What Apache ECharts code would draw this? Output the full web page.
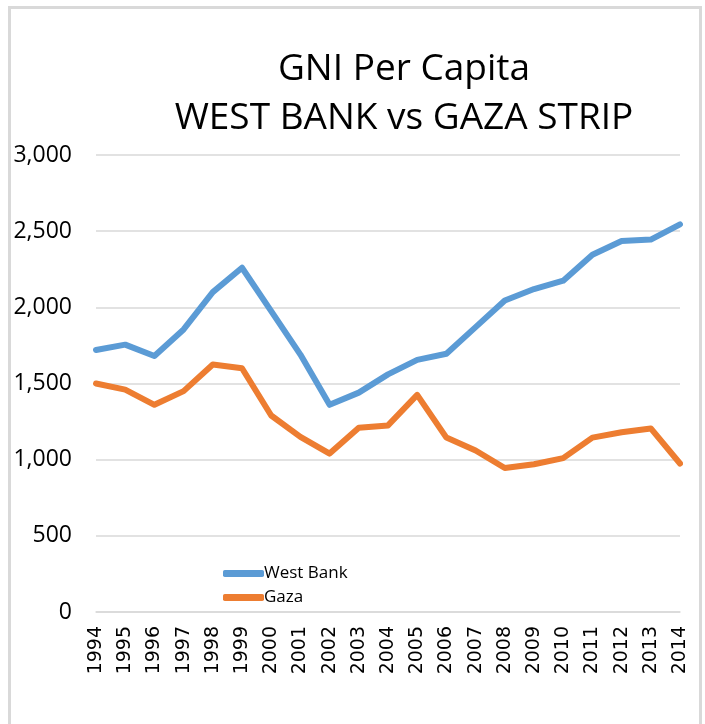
<!DOCTYPE html>
<html>
<head>
<meta charset="utf-8">
<title>GNI Per Capita</title>
<script src="https://cdn.jsdelivr.net/npm/echarts@6/dist/echarts.min.js"></script>
<style>
	html, body { margin: 0; padding: 0; background: #fff; }
	#echartsDiv { width: 705px; height: 724px; }
</style>
</head>
<body>
<div id="echartsDiv"></div>
<script>
// 年份
var years = ['1994','1995','1996','1997','1998','1999','2000','2001','2002','2003','2004',
	'2005','2006','2007','2008','2009','2010','2011','2012','2013','2014'];
// West Bank
var westBank = [1720, 1755, 1680, 1855, 2100, 2260, 1975, 1690, 1360, 1440, 1560,
	1655, 1695, 1870, 2045, 2120, 2175, 2345, 2435, 2445, 2545];
// Gaza
var gaza = [1500, 1460, 1360, 1450, 1625, 1600, 1290, 1150, 1040, 1210, 1225,
	1425, 1145, 1060, 945, 970, 1010, 1145, 1180, 1205, 975];
// y轴刻度
var yMin = 0, yMax = 3000, yStep = 500;

/**
 * 初始化
 */
window.onload = function() {
	createEcharts();
};

/**
 * 生成图表
 */
function createEcharts() {
	var myChart = echarts.init(document.getElementById('echartsDiv'));

	var option = {
		animation : false,
		backgroundColor : '#fff',
		color : ['#5B9BD5', '#ED7D31'],
		title : {
			text : 'GNI Per Capita\nWEST BANK vs GAZA STRIP',
			left : 399,
			textAlign : 'center',
			top : 40,
			textStyle : {
				fontFamily : 'Open Sans',
				fontWeight : 'normal',
				fontSize : 37,
				lineHeight : 49,
				color : '#000'
			}
		},
		// 外框
		graphic : [{
			type : 'rect',
			shape : { x : 9.5, y : 7.5, width : 691, height : 740 },
			style : { fill : 'none', stroke : '#d9d9d9', lineWidth : 3 },
			silent : true
		}],
		legend : {
			orient : 'vertical',
			left : 218,
			top : 560,
			itemGap : 7,
			itemWidth : 41,
			itemHeight : 7,
			icon : 'roundRect',
			textStyle : {
				fontFamily : 'Open Sans',
				fontSize : 17,
				color : '#000',
				padding : [0, 0, 0, -5]
			},
			data : ['West Bank', 'Gaza']
		},
		grid : {
			left : 96,
			right : 25,
			top : 155,
			bottom : 112,
			containLabel : false
		},
		xAxis : {
			type : 'category',
			boundaryGap : false,
			data : years,
			axisLine : { show : true, lineStyle : { color : '#d9d9d9', width : 1.5 } },
			axisTick : { show : false },
			axisLabel : {
				rotate : 90,
				interval : 0,
				margin : 14,
				fontFamily : 'DejaVu Sans',
				fontSize : 19,
				color : '#000'
			}
		},
		yAxis : {
			type : 'value',
			min : yMin,
			max : yMax,
			interval : yStep,
			axisLine : { show : false },
			axisTick : { show : false },
			splitLine : { lineStyle : { color : '#d9d9d9', width : 1.5 } },
			axisLabel : {
				margin : 24,
				fontFamily : 'Open Sans',
				fontSize : 23,
				color : '#000',
				formatter : function(val) {
					return val.toLocaleString('en-US');
				}
			}
		},
		series : [{
			name : 'West Bank',
			type : 'line',
			symbol : 'none',
			lineStyle : { width : 6, cap : 'round', join : 'round' },
			data : westBank
		}, {
			name : 'Gaza',
			type : 'line',
			symbol : 'none',
			lineStyle : { width : 6, cap : 'round', join : 'round' },
			data : gaza
		}]
	};

	myChart.setOption(option);
}
</script>
</body>
</html>
